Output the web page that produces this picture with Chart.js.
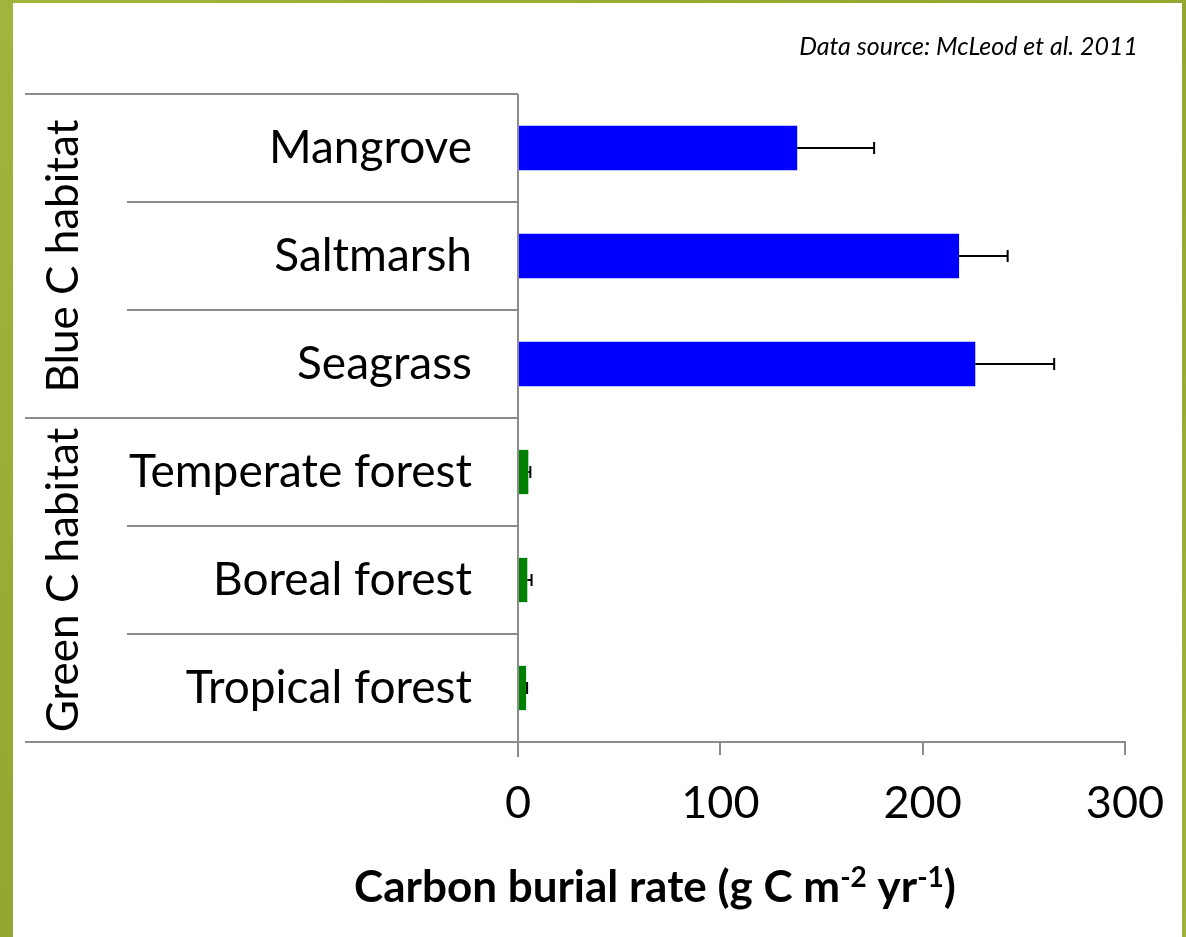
<!DOCTYPE html>
<html>
<head>
<meta charset="utf-8">
<script src="https://cdn.jsdelivr.net/npm/chart.js@4.4.0/dist/chart.umd.min.js"></script>
<style>
  html, body { margin: 0; padding: 0; }
  body { width: 1186px; height: 937px; position: relative; overflow: hidden;
         background: linear-gradient(135deg, #a3b43c 0%, #94a52f 50%, #a0b23a 100%); }
  #panel { position: absolute; left: 13px; top: 3px; width: 1169px; height: 934px; background: #fff; }
  #wrap { position: absolute; left: 0; top: 0; width: 1186px; height: 937px; }
</style>
</head>
<body>
<div id="panel"></div>
<div id="wrap"><canvas id="chart" width="1186" height="937"></canvas></div>
<script>
// values (McLeod et al. 2011)
const habitats = ["Mangrove", "Saltmarsh", "Seagrass", "Temperate forest", "Boreal forest", "Tropical forest"];
const burialRate = [138, 218, 226, 5.1, 4.6, 4.0];
const burialErr = [38, 24, 39, 1.0, 2.1, 0.5];
const groupNames = ["Blue C habitat", "Green C habitat"];
const groupSizes = [3, 3];
const xTicks = [0, 100, 200, 300];

const FONT = "Lato";
const GRID = "#8c8c8c";
const groupColours = ["#0000ff", "#008000"];

// colour each bar by the group it belongs to
const barColours = [];
groupSizes.forEach((n, g) => { for (let i = 0; i < n; i++) barColours.push(groupColours[g]); });

// plus-side error bars like Excel
const errorBars = {
  id: "errorBars",
  afterDatasetsDraw(chart) {
    const { ctx, scales: { x, y } } = chart;
    ctx.save();
    ctx.strokeStyle = "#000";
    ctx.lineWidth = 2;
    burialRate.forEach((v, i) => {
      const yy = y.getPixelForValue(i);
      const x1 = x.getPixelForValue(v);
      const x2 = x.getPixelForValue(v + burialErr[i]);
      ctx.beginPath();
      ctx.moveTo(x1, yy); ctx.lineTo(x2, yy);
      ctx.moveTo(x2, yy - 6); ctx.lineTo(x2, yy + 6);
      ctx.stroke();
    });
    ctx.restore();
  }
};

// table-style category lines, group labels, axis title and source note
const tableLines = {
  id: "tableLines",
  afterDraw(chart) {
    const { ctx, chartArea: a, scales: { y } } = chart;
    const step = y.getPixelForValue(1) - y.getPixelForValue(0);
    const outerLeft = 25, innerLeft = 127;
    const line = (x1, y1, x2, y2) => { ctx.beginPath(); ctx.moveTo(x1, y1); ctx.lineTo(x2, y2); ctx.stroke(); };

    ctx.save();
    ctx.strokeStyle = GRID;
    ctx.lineWidth = 2;
    line(outerLeft, a.top, a.left, a.top);

    let idx = 0;
    groupSizes.forEach((n, g) => {
      const top = y.getPixelForValue(idx) - step / 2;
      for (let i = 1; i < n; i++) {
        const yy = y.getPixelForValue(idx + i) - step / 2;
        line(innerLeft, yy, a.left, yy);
      }
      idx += n;
      const bottom = y.getPixelForValue(idx - 1) + step / 2;
      line(outerLeft, bottom, a.left, bottom);

      ctx.save();
      ctx.fillStyle = "#000";
      ctx.font = "44px " + FONT;
      ctx.textAlign = "center";
      ctx.textBaseline = "middle";
      ctx.translate(64, (top + bottom) / 2);
      ctx.rotate(-Math.PI / 2);
      ctx.fillText(groupNames[g], 0, 0);
      ctx.restore();
    });
    line(a.left, a.top, a.left, a.bottom + 15);

    // x axis title with superscripts
    const parts = [["Carbon burial rate (g C m", false], ["-2", true], [" yr", false], ["-1", true], [")", false]];
    const big = "bold 44px " + FONT, small = "bold 28px " + FONT;
    let total = 0;
    parts.forEach(([t, sup]) => { ctx.font = sup ? small : big; total += ctx.measureText(t).width; });
    let cx = 655 - total / 2;
    const base = 902;
    ctx.fillStyle = "#000";
    ctx.textAlign = "left";
    ctx.textBaseline = "alphabetic";
    parts.forEach(([t, sup]) => {
      ctx.font = sup ? small : big;
      ctx.fillText(t, cx, sup ? base - 15 : base);
      cx += ctx.measureText(t).width;
    });

    ctx.font = "italic 25px " + FONT;
    ctx.textAlign = "right";
    ctx.textBaseline = "middle";
    ctx.fillText("Data source: McLeod et al. 2011", 1138, 47);
    ctx.restore();
  }
};

new Chart(document.getElementById("chart"), {
  type: "bar",
  data: {
    labels: habitats,
    datasets: [{
      data: burialRate,
      backgroundColor: barColours,
      borderWidth: 0,
      categoryPercentage: 1,
      barPercentage: 0.41
    }]
  },
  options: {
    indexAxis: "y",
    responsive: false,
    animation: false,
    devicePixelRatio: 1,
    layout: { padding: { top: 94, right: 61, left: 0, bottom: 0 } },
    plugins: { legend: { display: false }, tooltip: { enabled: false } },
    scales: {
      x: {
        min: 0, max: 300,
        afterBuildTicks: s => { s.ticks = xTicks.map(v => ({ value: v })); },
        afterFit: s => { s.height = 195; },
        grid: { display: true, drawOnChartArea: false, drawTicks: true, tickLength: 13, color: GRID, lineWidth: 2 },
        border: { display: true, color: GRID, width: 2 },
        ticks: { color: "#000", font: { family: FONT, size: 45 }, padding: 21, maxRotation: 0 }
      },
      y: {
        afterFit: s => { s.width = 518; },
        grid: { display: false, drawTicks: false },
        border: { display: false },
        ticks: { color: "#000", font: { family: FONT, size: 46 }, padding: 46 }
      }
    }
  },
  plugins: [errorBars, tableLines]
});
</script>
</body>
</html>
